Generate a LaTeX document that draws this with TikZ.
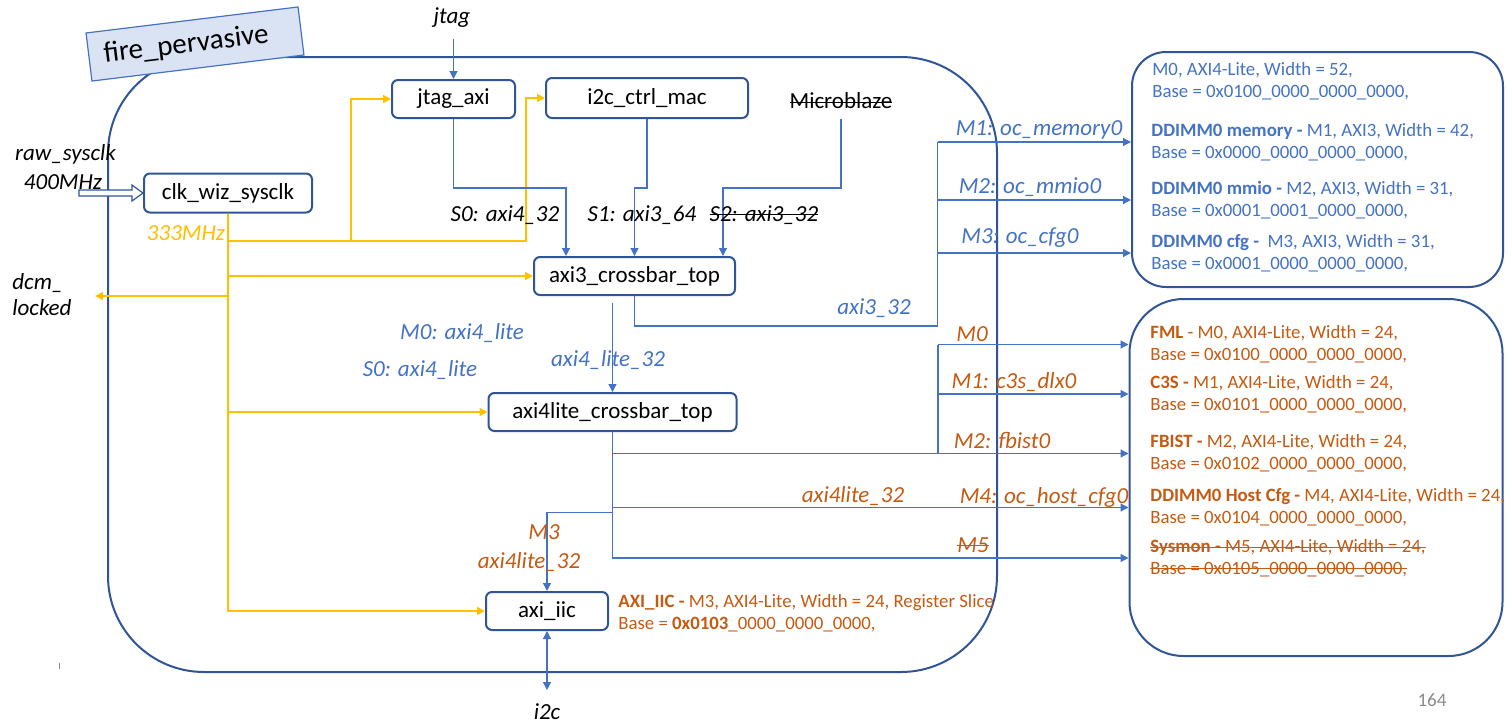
\documentclass[tikz,border=0pt]{standalone}
\usepackage{fontspec}
\setmainfont{Carlito}
\usepackage{tikz}
\usetikzlibrary{arrows.meta,calc}

\definecolor{framblue}{HTML}{2F5597}
\definecolor{busblue}{HTML}{4472C4}
\definecolor{clkyellow}{HTML}{FFC000}
\definecolor{liteorange}{HTML}{C55A11}
\definecolor{titlefill}{HTML}{DAE3F3}
\definecolor{pagegrey}{HTML}{898989}

% strike-through without ulem
\newsavebox\strkbox
\newcommand\strk[1]{\sbox\strkbox{#1}\rlap{\rule[0.55ex]{\wd\strkbox}{0.5pt}}\usebox\strkbox}

\tikzset{
  block/.style={draw=framblue, line width=1pt, rounded corners=3pt, inner sep=0pt,
    font=\fontsize{11.5}{13}\selectfont},
  bus/.style={draw=busblue, line width=0.6pt, -{Triangle[length=4pt,width=4pt]}},
  plainbus/.style={draw=busblue, line width=0.6pt},
  clkline/.style={draw=clkyellow, line width=0.8pt, -{Triangle[length=4pt,width=4pt]}},
  lbl/.style={inner sep=0pt, font=\fontsize{11.5}{13}\selectfont\itshape},
  info/.style={anchor=west, align=left, inner sep=0pt, font=\fontsize{9.4}{10.8}\selectfont},
  fpframe/.style={draw=framblue, line width=1pt}
}

\begin{document}
\begin{tikzpicture}[x=0.5pt,y=-0.5pt]
\useasboundingbox (0,0) rectangle (1512,723);

%Shape: Rounded Rect fire_pervasive
\draw[fpframe, rounded corners=48pt] (108,57) rectangle (997,672);
% Title
\node[draw=busblue, fill=titlefill, line width=0.6pt, rotate=7, minimum width=106.8pt,
  minimum height=24.2pt, text width=91.8pt, align=left, inner xsep=7.5pt,
  font=\fontsize{14.5}{16}\selectfont] (title) at (195,44) {fire\_pervasive};

%Shape: Rounded Rect right boxes
\node[fpframe, rounded corners=17pt, minimum width=185.5pt, minimum height=117.5pt] (ddimmbox) at (1317.5,169.5) {};
\node[fpframe, rounded corners=27pt, minimum width=186.5pt, minimum height=178.5pt] (litebox) at (1316,477.5) {};

% Blocks
\node[block, minimum width=84pt, minimum height=19.5pt] (clk) at (228,193) {clk\_wiz\_sysclk};
\node[block, minimum width=61.5pt, minimum height=19pt] (jtagaxi) at (453.5,99) {jtag\_axi};
\node[block, minimum width=101pt, minimum height=20pt] (i2cmac) at (647,98) {i2c\_ctrl\_mac};
\node[block, minimum width=100.5pt, minimum height=19pt] (axi3) at (634.5,276) {axi3\_crossbar\_top};
\node[block, minimum width=124pt, minimum height=19pt] (axi4l) at (612.5,412) {axi4lite\_crossbar\_top};
\node[block, minimum width=61pt, minimum height=19pt] (iic) at (547,611) {axi\_iic};
% Text Node
\node[inner sep=0pt, font=\fontsize{11.5}{13}\selectfont] (mblaze) at (841,101) {\strk{Microblaze}};

% Free ends
\coordinate (jtagpin) at (453.5,39);
\coordinate (i2cpin) at (547,690);
\coordinate (dcmout) at (95,296);
\coordinate (clkfork) at (228,241);
\coordinate (xbarin) at (0,188);
\coordinate (axibus) at (937.5,326);

% Text Node
\node[lbl] (jtagtxt) at (452,18) {jtag};
\node[lbl] (i2ctxt) at (547,712) {i2c};
\node[lbl] (rawtxt) at (65.5,154) {raw\_sysclk};
\node[lbl] (mhz400) at (63,182) {400MHz};
\node[lbl, text=clkyellow] (mhz333) at (186,233) {333MHz};
\node[lbl, anchor=west, align=left] (dcmtxt) at (12,295) {dcm\_\\locked};

%Straight Lines raw_sysclk hollow arrow
\begin{scope}[shift={(clk.west)}]
\draw[draw=framblue, line width=0.6pt, fill=white] (0,0) -- (-11,-8) -- (-11,-3) -- (-64,-3) -- (-64,3) -- (-11,3) -- (-11,8) -- cycle;
\end{scope}

%Straight Lines clock
\draw[clkline] (clk.south) |- (iic.west);
\draw[clkline] (clk.south |- axi4l.west) -- (axi4l.west);
\draw[clkline] (clk.south |- axi3.west) -- (axi3.west);
\draw[clkline] (clk.south |- dcmout) -- (dcmout);
\draw[clkline] (clkfork) -| ($(jtagaxi.west)+(-40,0)$) -- (jtagaxi.west);
\draw[clkline] (clkfork) -| ($(i2cmac.west)+(-19,0)$) -- (i2cmac.west);

%Straight Lines slaves
\draw[bus] (jtagpin) -- (jtagaxi.north);
\draw[bus] (jtagaxi.south) -- (jtagaxi.south |- xbarin) -| ([xshift=-34.25pt]axi3.north);
\draw[bus] (i2cmac.south) -- (i2cmac.south |- xbarin) -| (axi3.north);
\draw[bus] ([yshift=-5pt]mblaze.south) -- (mblaze.south |- xbarin) -| ([xshift=44.25pt]axi3.north);

% Text Node
\node[lbl] (s0lbl) at (505,215) {S0: axi4\_32};
\node[lbl] (s1lbl) at (642,215) {S1: axi3\_64};
\node[lbl] (s2lbl) at (764,215) {\strk{S2: axi3\_32}};

% DDIMM text
\node[info, text=busblue] (m0info) at (1152,81.5) {M0, AXI4-Lite, Width = 52,\\Base = 0x0100\_0000\_0000\_0000,};
\node[info, text=busblue] (meminfo) at (1151,142) {\textbf{DDIMM0 memory -} M1, AXI3, Width = 42,\\Base = 0x0000\_0000\_0000\_0000,};
\node[info, text=busblue] (mmioinfo) at (1151,200) {\textbf{DDIMM0 mmio -} M2, AXI3, Width = 31,\\Base = 0x0001\_0001\_0000\_0000,};
\node[info, text=busblue] (cfginfo) at (1151,253) {\textbf{DDIMM0 cfg -}\ \ M3, AXI3, Width = 31,\\Base = 0x0001\_0000\_0000\_0000,};

%Straight Lines axi3 masters
\draw[plainbus] (axi3.south) |- (axibus) -- (axibus |- meminfo.west);
\draw[bus] (axibus |- meminfo.west) -- (ddimmbox.west |- meminfo.west);
\draw[bus] (axibus |- mmioinfo.west) -- (ddimmbox.west |- mmioinfo.west);
\draw[bus] (axibus |- cfginfo.west) -- (ddimmbox.west |- cfginfo.west);
\node[lbl, text=busblue] (memlbl) at (1039,130) {M1: oc\_memory0};
\node[lbl, text=busblue] (mmiolbl) at (1030,187) {M2: oc\_mmio0};
\node[lbl, text=busblue] (cfglbl) at (1020,238) {M3: oc\_cfg0};
\node[lbl, text=busblue] (axi3lbl) at (874,308) {axi3\_32};

%Straight Lines axi3 to axi4lite
\draw[bus] ([yshift=-3.5pt]axi3.south -| axi4l.north) -- (axi4l.north);
\node[lbl, text=busblue] (m0lbl) at (462,333) {M0: axi4\_lite};
\node[lbl, text=busblue] (s0lite) at (420,370) {S0: axi4\_lite};
\node[lbl, text=busblue] (litelbl) at (608,360) {axi4\_lite\_32};

% Lite text
\node[info, text=liteorange] (fmlinfo) at (1150,344.5) {\textbf{FML} - M0, AXI4-Lite, Width = 24,\\Base = 0x0100\_0000\_0000\_0000,};
\node[info, text=liteorange] (c3sinfo) at (1150,394) {\textbf{C3S -} M1, AXI4-Lite, Width = 24,\\Base = 0x0101\_0000\_0000\_0000,};
\node[info, text=liteorange] (fbistinfo) at (1150,453.5) {\textbf{FBIST -} M2, AXI4-Lite, Width = 24,\\Base = 0x0102\_0000\_0000\_0000,};
\node[info, text=liteorange] (hostinfo) at (1150,507.5) {\textbf{DDIMM0 Host Cfg -} M4, AXI4-Lite, Width = 24,\\Base = 0x0104\_0000\_0000\_0000,};
\node[info, text=liteorange] (sysinfo) at (1150,558) {\strk{\textbf{Sysmon -} M5, AXI4-Lite, Width = 24,}\\\strk{Base = 0x0105\_0000\_0000\_0000,}};
\node[info, text=liteorange] (iicinfo) at (618,613) {\textbf{AXI\_IIC -} M3, AXI4-Lite, Width = 24, Register Slice\\Base = \textbf{0x0103}\_0000\_0000\_0000,};

%Straight Lines axi4lite masters
\coordinate (litebus) at (938,453.5);
\draw[bus] (axi4l.south) |- (litebox.west |- fbistinfo.west);
\draw[plainbus] (litebus) -- (litebus |- fmlinfo.west);
\draw[bus] (litebus |- fmlinfo.west) -- (litebox.west |- fmlinfo.west);
\draw[bus] (litebus |- c3sinfo.west) -- (litebox.west |- c3sinfo.west);
\draw[bus] (axi4l.south) |- (litebox.west |- sysinfo.west);
\draw[bus] (axi4l.south |- hostinfo.west) -- (litebox.west |- hostinfo.west);
\draw[bus] ([yshift=-2.5pt]axi4l.south |- hostinfo.west) -| (iic.north);
\draw[bus, {Triangle[length=4pt,width=4pt]}-{Triangle[length=4pt,width=4pt]}] (iic.south) -- (i2cpin);

% Text Node
\node[lbl, text=liteorange] (fmllbl) at (972,334) {M0};
\node[lbl, text=liteorange] (c3slbl) at (1014,382) {M1: c3s\_dlx0};
\node[lbl, text=liteorange] (fbistlbl) at (1002,440) {M2: fbist0};
\node[lbl, text=liteorange] (hostlbl) at (1044,497) {M4: oc\_host\_cfg0};
\node[lbl, text=liteorange] (lite32a) at (853,496) {axi4lite\_32};
\node[lbl, text=liteorange] (syslbl) at (973,545) {\strk{M5}};
\node[lbl, text=liteorange] (iiclbl) at (544,532) {M3};
\node[lbl, text=liteorange] (lite32b) at (529,562) {axi4lite\_32};

% page number and tick
\node[inner sep=0pt, text=pagegrey, font=\fontsize{9.5}{11}\selectfont] (pagenum) at (1432,700) {164};
\draw[pagegrey, line width=0.4pt] (59,663) -- (59,669);
\end{tikzpicture}
\end{document}
